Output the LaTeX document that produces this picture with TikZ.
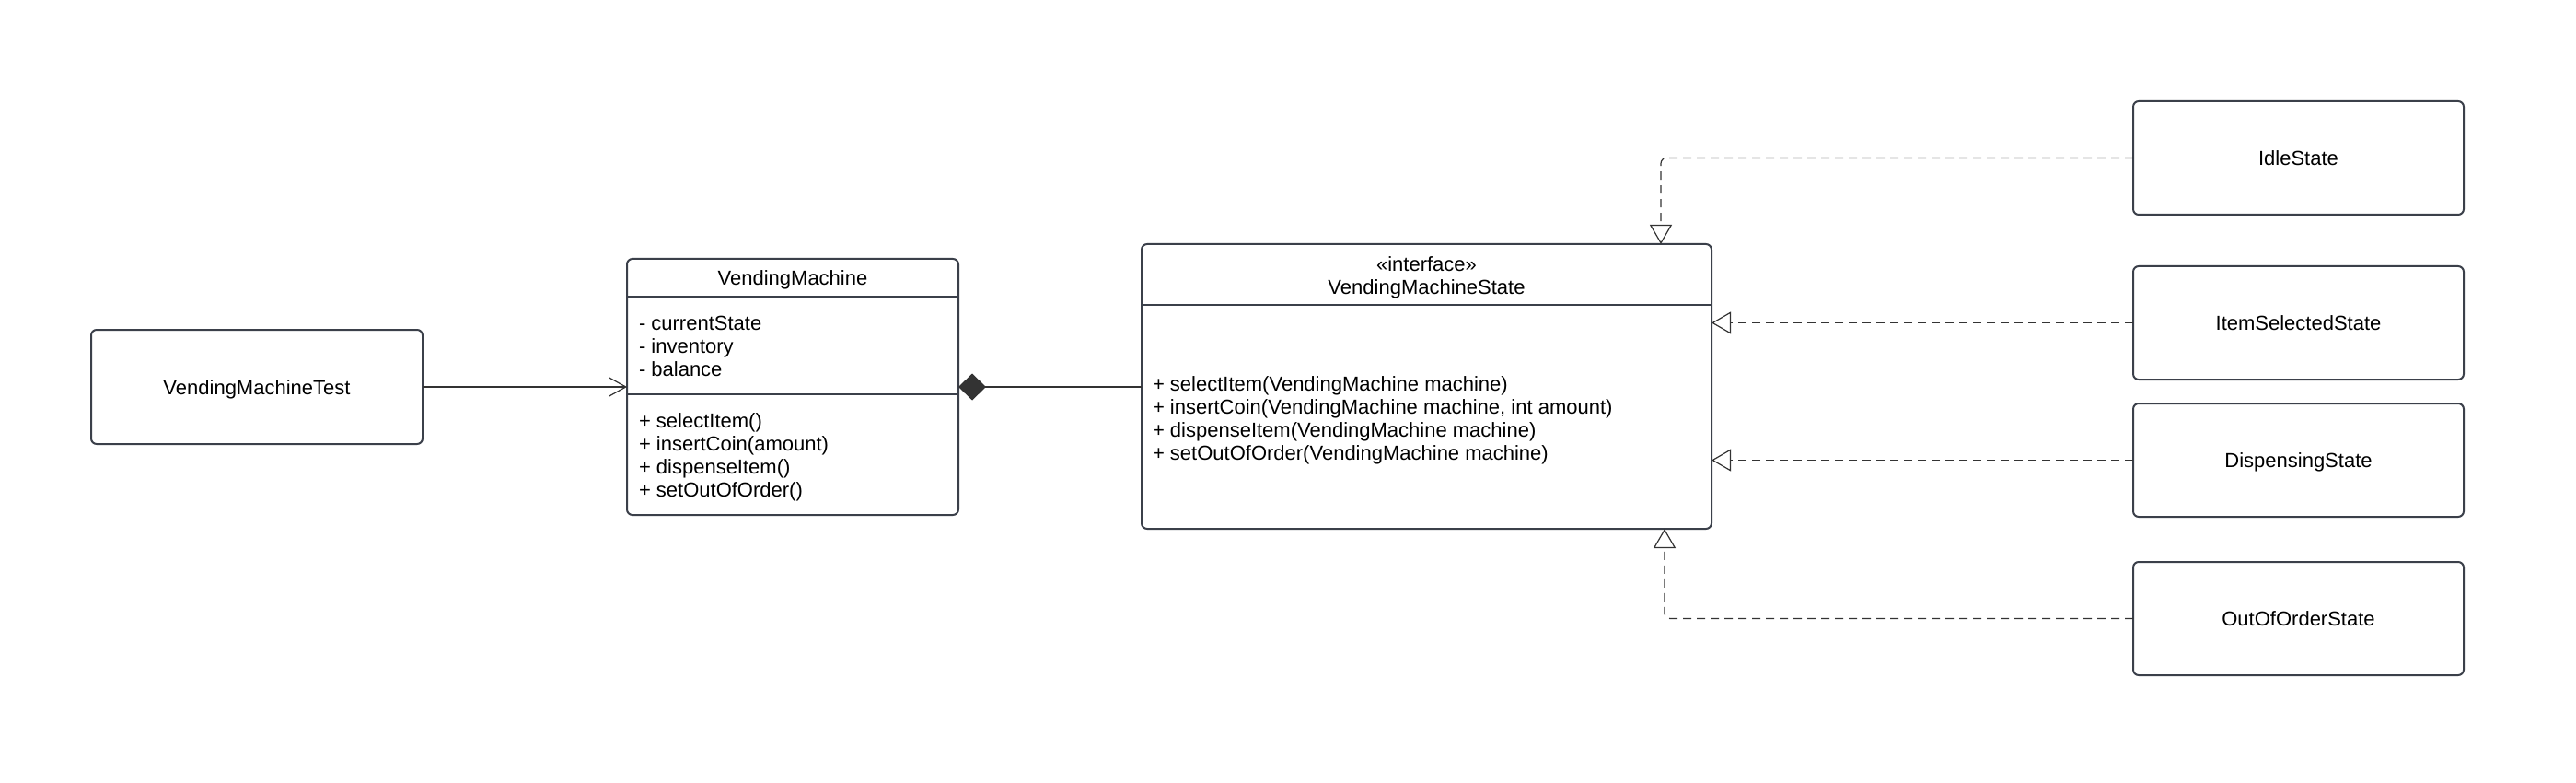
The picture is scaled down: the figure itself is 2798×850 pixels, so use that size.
\documentclass[tikz,border=0pt]{standalone}
\usepackage{fontspec}
\setmainfont{Liberation Sans}
\usetikzlibrary{arrows.meta}
\definecolor{boxline}{HTML}{3B404A}
\definecolor{connc}{HTML}{333333}
\begin{document}
\begin{tikzpicture}[x=1pt,y=-1pt,
  every node/.style={font=\fontsize{22}{25}\selectfont, text=black, inner sep=0pt, outer sep=0pt},
  umlbox/.style={draw=boxline, line width=2pt, rounded corners=6pt, fill=white, anchor=north west,
    text height=16pt, text depth=0pt},
  sepline/.style={draw=boxline, line width=2pt},
  conn/.style={draw=connc, line width=1.2pt},
  realize/.style={conn, dash pattern=on 9pt off 6pt, rounded corners=6pt,
    -{Triangle[open, length=21pt, width=24pt, fill=white]}}
]
\useasboundingbox (0,0) rectangle (2798,850);

% VendingMachineTest
\node[umlbox, minimum width=360pt, minimum height=124pt] (vmt) at (99,358) {VendingMachineTest};

% VendingMachine class
\node[umlbox, minimum width=360pt, minimum height=278pt] (vm) at (681,281) {};
\coordinate (vmsepA) at (681,322);
\coordinate (vmsepB) at (681,428);
\draw[sepline] (vmsepA) -- (vmsepA -| vm.east);
\draw[sepline] (vmsepB) -- (vmsepB -| vm.east);
\node (vmtitle) at (861,303.5) {VendingMachine};
\node[anchor=west, align=left] (vmattr) at (694,376) {- currentState\\- inventory\\- balance};
\node[anchor=west, align=left] (vmops) at (694,496) {+ selectItem()\\+ insertCoin(amount)\\+ dispenseItem()\\+ setOutOfOrder()};

% VendingMachineState interface
\node[umlbox, minimum width=619pt, minimum height=309pt] (vms) at (1240,265) {};
\coordinate (vmssep) at (1240,331);
\draw[sepline] (vmssep) -- (vmssep -| vms.east);
\node[align=center] (vmstitle) at (1549.5,301.5) {«interface»\\VendingMachineState};
\node[anchor=west, align=left] (vmsops) at (1252,456.5) {+ selectItem(VendingMachine machine)\\+ insertCoin(VendingMachine machine, int amount)\\+ dispenseItem(VendingMachine machine)\\+ setOutOfOrder(VendingMachine machine)};

% State classes
\node[umlbox, minimum width=359pt, minimum height=123pt] (idle) at (2317,110) {IdleState};
\node[umlbox, minimum width=359pt, minimum height=123pt] (sel) at (2317,289) {ItemSelectedState};
\node[umlbox, minimum width=359pt, minimum height=123pt] (disp) at (2317,438) {DispensingState};
\node[umlbox, minimum width=359pt, minimum height=123pt] (ooo) at (2317,610) {OutOfOrderState};

% Connectors
\draw[conn, -{Straight Barb[length=18pt, width=20pt]}] (vmt.east) -- (vm.west);
\draw[conn, {Diamond[length=30pt, width=29pt, fill=connc]}-] (vm.east) -- (vm.east -| vms.west);
\draw[realize] (idle.west) -| ([xshift=-55pt]vms.north east);
\draw[realize] (sel.west) -- (sel.west -| vms.east);
\draw[realize] (disp.west) -- (disp.west -| vms.east);
\draw[realize] (ooo.west) -| ([xshift=-51pt]vms.south east);
\end{tikzpicture}
\end{document}
